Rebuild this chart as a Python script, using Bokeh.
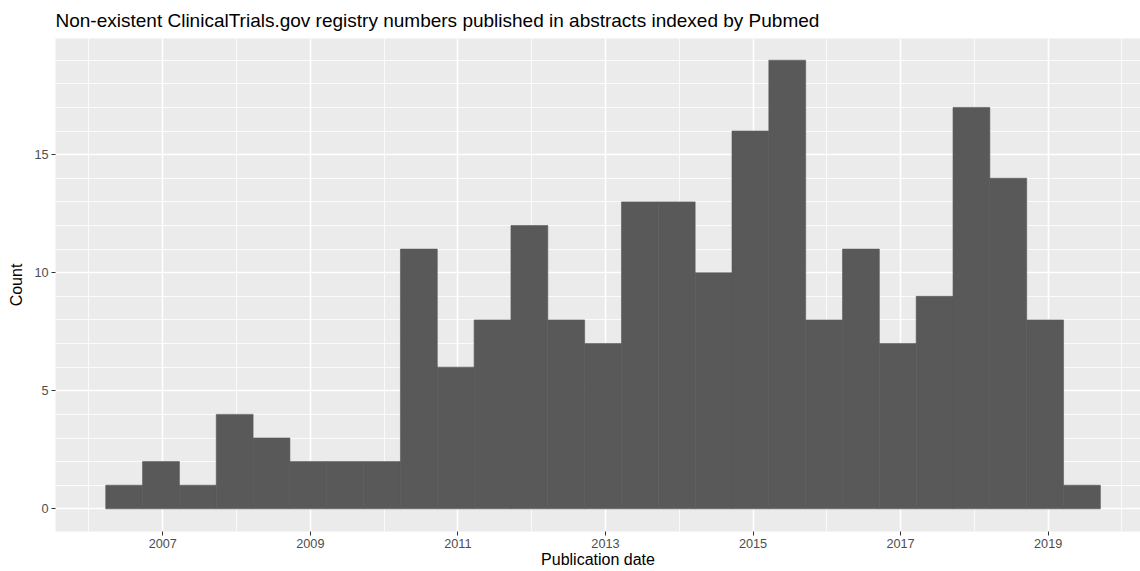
from bokeh.plotting import figure
from bokeh.models import Range1d, FixedTicker
from bokeh.embed import file_html
from bokeh.resources import INLINE

# Histogram data (counts per half-year bin)
counts = [1, 2, 1, 4, 3, 2, 2, 2, 11, 6, 8, 12, 8, 7, 13, 13, 10, 16, 19, 8, 11, 7, 9, 17, 14, 8, 1]
bin_start = 2006.227      # decimal year of first bin's left edge
bin_width = 0.4993        # years
x_major = [2007, 2009, 2011, 2013, 2015, 2017, 2019]
x_minor = [2006, 2008, 2010, 2012, 2014, 2016, 2018, 2020]
x_labels = ["2007", "2009", "2011", "2013", "2015", "2017", "2019"]
y_major = [0, 5, 10, 15]
y_minor = [1, 2, 3, 4, 6, 7, 8, 9, 11, 12, 13, 14, 16, 17, 18, 19]

title_text = "Non-existent ClinicalTrials.gov registry numbers published in abstracts indexed by Pubmed"
x_title = "Publication date"
y_title = "Count"

lefts = [bin_start + i * bin_width for i in range(len(counts))]
rights = [l + bin_width for l in lefts]

FONT = "Liberation Sans"

p = figure(width=1140, height=571, output_backend="svg", toolbar_location=None,
           x_range=Range1d(2005.546, 2020.252), y_range=Range1d(-0.96, 19.92),
           min_border_left=55, min_border_right=0, min_border_top=37, min_border_bottom=40)

p.background_fill_color = "#EBEBEB"
p.border_fill_color = "white"
p.outline_line_color = None

p.quad(left=lefts, right=rights, bottom=0, top=counts,
       fill_color="#595959", line_color="#595959", line_width=0.6)

# title
p.title.text = title_text
p.title.text_font = FONT
p.title.text_font_size = "19px"
p.title.text_font_style = "normal"
p.title.text_color = "black"
p.title.standoff = 15
p.title.offset = 0

# x axis
p.xaxis.ticker = FixedTicker(ticks=x_major, minor_ticks=x_minor)
p.xaxis.major_label_overrides = {v: s for v, s in zip(x_major, x_labels)}
p.xaxis.axis_line_color = None
p.xaxis.major_tick_line_color = "#333333"
p.xaxis.major_tick_line_width = 1
p.xaxis.major_tick_out = 4
p.xaxis.major_tick_in = 0
p.xaxis.minor_tick_line_color = None
p.xaxis.major_label_text_font = FONT
p.xaxis.major_label_text_font_size = "12.7px"
p.xaxis.major_label_text_color = "#4D4D4D"
p.xaxis.major_label_standoff = 3
p.xaxis.axis_label = x_title
p.xaxis.axis_label_text_font = FONT
p.xaxis.axis_label_text_font_size = "16px"
p.xaxis.axis_label_text_font_style = "normal"
p.xaxis.axis_label_text_color = "black"
p.xaxis.axis_label_standoff = 0

# y axis
p.yaxis.ticker = FixedTicker(ticks=y_major, minor_ticks=y_minor)
p.yaxis.axis_line_color = None
p.yaxis.major_tick_line_color = "#333333"
p.yaxis.major_tick_out = 4
p.yaxis.major_tick_in = 0
p.yaxis.minor_tick_line_color = None
p.yaxis.major_label_text_font = FONT
p.yaxis.major_label_text_font_size = "12.7px"
p.yaxis.major_label_text_color = "#4D4D4D"
p.yaxis.major_label_standoff = 3
p.yaxis.axis_label = y_title
p.yaxis.axis_label_text_font = FONT
p.yaxis.axis_label_text_font_size = "16px"
p.yaxis.axis_label_text_font_style = "normal"
p.yaxis.axis_label_text_color = "black"
p.yaxis.axis_label_standoff = 6

# grids
p.xgrid.ticker = FixedTicker(ticks=x_major, minor_ticks=x_minor)
p.ygrid.ticker = FixedTicker(ticks=y_major, minor_ticks=y_minor)
for g in (p.xgrid[0], p.ygrid[0]):
    g.grid_line_color = "white"
    g.grid_line_width = 1.6
    g.minor_grid_line_color = "white"
    g.minor_grid_line_width = 0.8
    g.level = "underlay"

open("out.html", "w").write(file_html(p, INLINE))
